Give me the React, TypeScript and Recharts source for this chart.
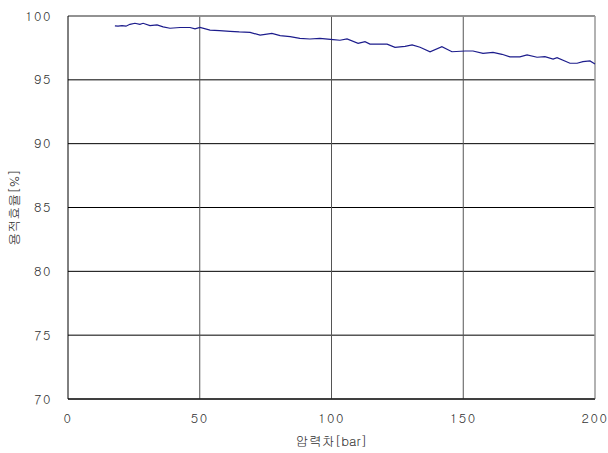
import { LineChart, Line, XAxis, YAxis, CartesianGrid, ReferenceLine } from 'recharts';

// 압력차 [bar]
const pressureDiff = [
  17.8, 19.0, 20.5, 22.0, 23.5, 25.4, 27.3, 28.5, 31.1, 33.8, 36.1, 38.7, 42.5, 46.3, 48.2, 50.1,
  53.9, 57.5, 61.5, 65.0, 69.1, 72.9, 77.4, 80.5, 84.3, 88.0, 91.8, 95.6, 100.6, 103.2, 105.9,
  110.1, 112.7, 114.6, 118.4, 121.1, 124.1, 127.9, 130.6, 133.6, 137.4, 141.9, 145.7, 150.7,
  153.7, 157.5, 161.3, 164.7, 167.7, 171.5, 174.2, 178.0, 181.0, 184.1, 185.6, 190.5, 193.2,
  195.4, 198.1, 200.0,
];

// 용적효율 [%]
const volEff = [
  99.22, 99.2, 99.25, 99.2, 99.35, 99.43, 99.35, 99.43, 99.25, 99.3, 99.15, 99.04, 99.1, 99.1, 99.0, 99.1,
  98.9, 98.85, 98.8, 98.75, 98.72, 98.5, 98.64, 98.46, 98.38, 98.25, 98.2, 98.25, 98.15, 98.1, 98.2,
  97.86, 97.99, 97.8, 97.8, 97.8, 97.55, 97.62, 97.73, 97.55, 97.2, 97.6, 97.2, 97.26,
  97.26, 97.08, 97.15, 97.0, 96.8, 96.8, 96.95, 96.77, 96.82, 96.63, 96.74, 96.3, 96.3,
  96.42, 96.48, 96.24,
];

const xTicks = [0, 50, 100, 150, 200];
const yTicks = [70, 75, 80, 85, 90, 95, 100];

const data = pressureDiff.map((x, i) => ({ x, eff: volEff[i] }));

const FONT = 'Gulim, "Noto Sans CJK KR", "DejaVu Sans", sans-serif';
const tickStyle = { fill: '#333', fontSize: 13, fontFamily: FONT, letterSpacing: 1.5 };

export default function App() {
  return (
    <div style={{ position: 'absolute', left: 0, top: 0, background: '#fff' }}>
      <LineChart width={608} height={453} data={data} margin={{ top: 16, right: 13, bottom: 5, left: 0 }}>
        <CartesianGrid stroke="#000" horizontal={true} vertical={false} />
        <ReferenceLine x={50} stroke="#555" />
        <ReferenceLine x={100} stroke="#555" />
        <ReferenceLine x={150} stroke="#555" />
        <ReferenceLine y={100} stroke="#999" strokeWidth={1.5} />
        <ReferenceLine x={200} stroke="#999" strokeWidth={1.5} />
        <XAxis
          type="number"
          dataKey="x"
          domain={[0, 200]}
          ticks={xTicks}
          height={49}
          tickLine={false}
          tickMargin={9}
          axisLine={{ stroke: '#000' }}
          tick={tickStyle}
          label={{ value: '압력차[bar]', position: 'insideBottom', offset: 2, style: { fill: '#333', fontSize: 13, fontFamily: FONT } }}
        />
        <YAxis
          type="number"
          domain={[70, 100]}
          ticks={yTicks}
          width={68}
          tickLine={false}
          tickMargin={10}
          axisLine={{ stroke: '#000' }}
          tick={tickStyle}
          label={{ value: '용적효율[%]', angle: -90, position: 'insideLeft', offset: 14, style: { fill: '#333', fontSize: 13, fontFamily: FONT, textAnchor: 'middle' } }}
        />
        <Line type="linear" dataKey="eff" stroke="#1c1c8c" strokeWidth={1.2} dot={false} isAnimationActive={false} />
      </LineChart>
    </div>
  );
}
